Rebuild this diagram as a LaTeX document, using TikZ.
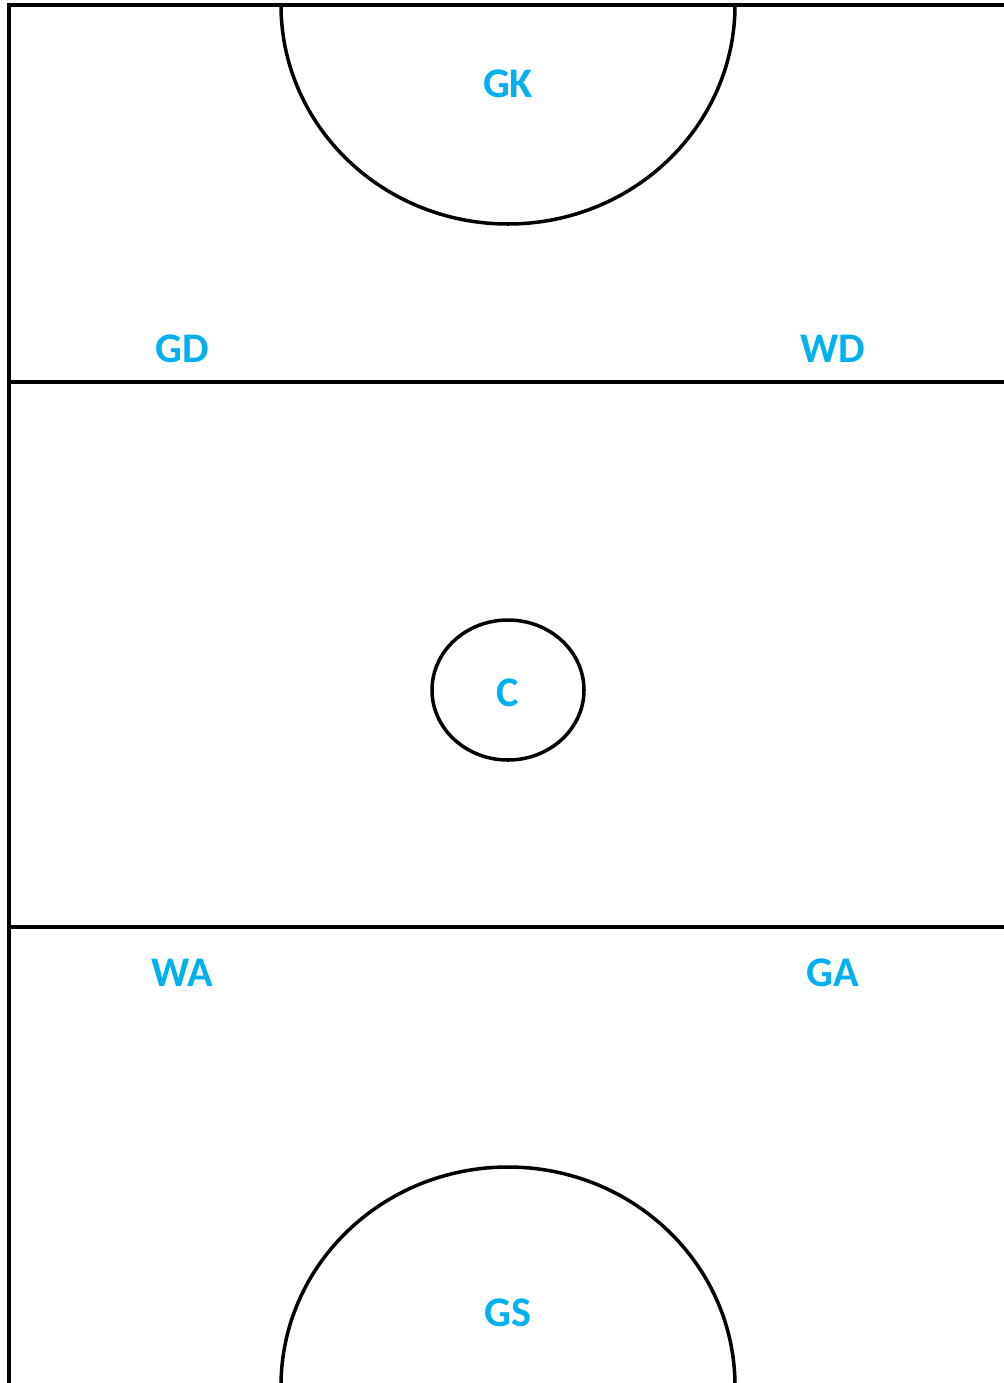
\documentclass[tikz,border=0pt]{standalone}
\usepackage{fontspec}
\setmainfont{Carlito}
\usepackage{xcolor}
\usepackage{tikz}
\usetikzlibrary{positioning}

\definecolor{posblue}{RGB}{0,176,240}

\begin{document}
\begin{tikzpicture}[
  x=0.02cm, y=-0.02cm,
  courtline/.style={draw, line width=2.6pt},
  ringline/.style={draw, line width=2pt},
  poslabel/.style={text=posblue, font=\fontsize{24}{26}\selectfont\bfseries, inner sep=0pt}
]
  \useasboundingbox (0,0) rectangle (1004,1383);
  \clip (0,0) rectangle (1004,1383);

  % court outline and thirds
  \draw[courtline] (1020,5) -- (9,5) -- (9,1400);
  \draw[courtline] (9,382) -- (1020,382);
  \draw[courtline] (9,927) -- (1020,927);

  % shooting circles and centre circle
  \draw[ringline] (735,5) arc[start angle=0, end angle=180, x radius=227, y radius=219];
  \draw[ringline] (281,1386) arc[start angle=180, end angle=360, x radius=227, y radius=219];
  \draw[ringline] (508,690) ellipse[x radius=76, y radius=70];

  \node[poslabel] (gk) at (508,84) {GK};
  \node[poslabel] (gd) at (182,349) {GD};
  \node[poslabel] (wd) at (833,349) {WD};
  \node[poslabel] (c) at (508,693) {C};
  \node[poslabel] (wa) at (182,973) {WA};
  \node[poslabel] (ga) at (833,973) {GA};
  \node[poslabel] (gs) at (508,1313) {GS};
\end{tikzpicture}
\end{document}
